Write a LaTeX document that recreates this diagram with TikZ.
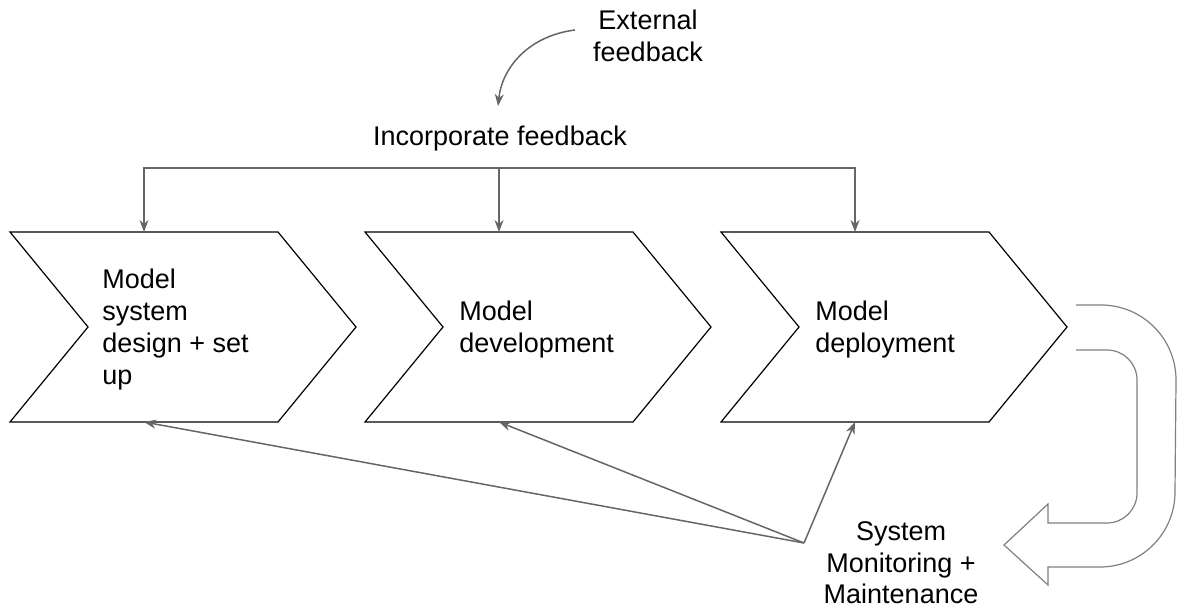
\documentclass[tikz,border=0pt]{standalone}
\usepackage{fontspec}
\setmainfont{Liberation Sans}
\usetikzlibrary{arrows.meta}
\definecolor{linegray}{HTML}{666666}
\definecolor{ugray}{HTML}{808080}

\begin{document}
\begin{tikzpicture}[x=0.5pt,y=-0.5pt,
    txt/.style={inner sep=0pt,align=left,font=\fontsize{13.5}{16}\selectfont},
    chev/.style={draw=black,line width=0.6pt,line join=miter},
    fb/.style={draw=linegray,line width=0.75pt,-{Stealth[length=6pt,width=4.5pt]}}]
  \useasboundingbox (0,0) rectangle (1177,613);
  % the three stages
  \foreach \x/\n in {10/1,365/2,721/3}{
    \draw[chev] (\x,232) -- ++(268,0) -- ++(78,95) -- ++(-78,95)
      -- ++(-268,0) -- ++(78,-95) -- cycle;
    \coordinate (top\n) at (\x+134,232);
    \coordinate (bot\n) at (\x+134,422);
  }
  % anchor base = baseline of the last line
  \node[txt,anchor=base west] (t1) at (102,385) {Model\\system\\design + set\\up};
  \node[txt,anchor=base west] (t2) at (459,353) {Model\\development};
  \node[txt,anchor=base west] (t3) at (815,353) {Model\\deployment};
  % feedback from the top
  \node[txt,align=center,anchor=base] (ext) at (648,62) {External\\feedback};
  \node[txt,anchor=base] (inc) at (500,146) {Incorporate feedback};
  \coordinate (extfrom) at (575,30);
  \coordinate (extto) at (498,106);
  \draw[fb] (extfrom) .. controls (528,36) and (502,68) .. (extto);
  \coordinate (bar) at (499,168);
  \draw[fb,{Stealth[length=6pt,width=4.5pt]}-{Stealth[length=6pt,width=4.5pt]}]
    (top1) |- (bar) -| (top3);
  \draw[fb] (bar) -- (top2);
  % monitoring back to every stage
  \node[txt,align=center,anchor=base] (mon) at (901,604) {System\\Monitoring +\\Maintenance};
  \coordinate (monfrom) at (804,543);
  \foreach \n in {1,2,3}
    \draw[fb] (monfrom) -- (bot\n);
  % u-turn arrow
  \draw[ugray,line width=0.6pt] (1076,305) -- (1101,305)
    arc[start angle=-90,end angle=0,radius=75] -- (1175,492)
    arc[start angle=0,end angle=90,radius=75] -- (1048,567) -- (1048,585)
    -- (1004,545) -- (1048,504) -- (1048,523) -- (1107,523)
    arc[start angle=90,end angle=0,radius=30] -- (1137,380)
    arc[start angle=0,end angle=-90,radius=30] -- (1076,350);
\end{tikzpicture}
\end{document}
